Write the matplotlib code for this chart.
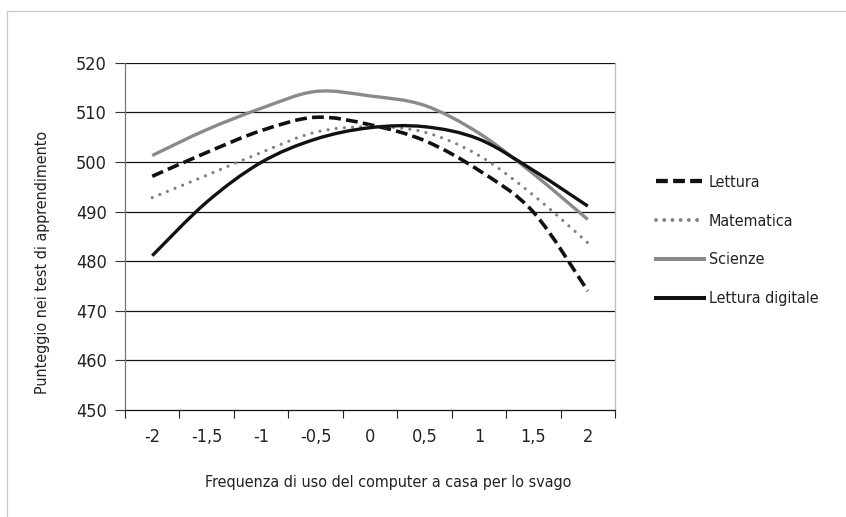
"""Punteggio nei test di apprendimento vs frequenza di uso del computer per lo svago."""

import matplotlib

matplotlib.use("Agg")
import matplotlib.pyplot as plt
from matplotlib.lines import Line2D
from matplotlib.patches import PathPatch
from matplotlib.path import Path

plt.rcParams["font.family"] = ["Liberation Sans Narrow", "DejaVu Sans"]
plt.rcParams["font.stretch"] = "condensed"
plt.rcParams["lines.scale_dashes"] = False

# categorie dell'asse x e valori
frequenza = [-2, -1.5, -1, -0.5, 0, 0.5, 1, 1.5, 2]
etichette_x = ["-2", "-1,5", "-1", "-0,5", "0", "0,5", "1", "1,5", "2"]

lettura = [497.1, 501.9, 506.3, 509.0, 507.5, 504.3, 498.3, 489.9, 474.0]
matematica = [492.8, 497.3, 501.9, 506.0, 507.1, 506.0, 501.3, 493.3, 483.7]
scienze = [501.3, 506.5, 510.8, 514.2, 513.3, 511.4, 505.8, 497.6, 488.4]
lettura_digitale = [481.1, 491.9, 499.9, 504.6, 506.9, 507.1, 504.6, 498.3, 491.1]

y_ticks = [450, 460, 470, 480, 490, 500, 510, 520]

TEXT = "#222222"
FS = 13


def smooth_path(xs, ys):
    """Curva liscia tipo Excel (Bezier con tensione 1/6) attraverso i punti."""
    pts = list(zip(xs, ys))
    verts = [pts[0]]
    codes = [Path.MOVETO]
    n = len(pts)
    for i in range(n - 1):
        p0 = pts[i - 1] if i > 0 else pts[i]
        p1 = pts[i]
        p2 = pts[i + 1]
        p3 = pts[i + 2] if i + 2 < n else pts[i + 1]
        c1 = (p1[0] + (p2[0] - p0[0]) / 6, p1[1] + (p2[1] - p0[1]) / 6)
        c2 = (p2[0] - (p3[0] - p1[0]) / 6, p2[1] - (p3[1] - p1[1]) / 6)
        verts += [c1, c2, p2]
        codes += [Path.CURVE4] * 3
    return Path(verts, codes)


fig = plt.figure(figsize=(8.46, 5.17), dpi=100)
ax = fig.add_axes([125 / 846, 1 - 410 / 517, 490 / 846, 347.3 / 517])

series = [
    ("Lettura", lettura, dict(color="#111111", lw=2.6, ls=(0, (8.5, 3.8)), cap="butt")),
    ("Matematica", matematica, dict(color="#808080", lw=2.3, ls=(0, (0.01, 5.9)), cap="round")),
    ("Scienze", scienze, dict(color="#8a8a8a", lw=2.4, ls="-", cap="butt")),
    ("Lettura digitale", lettura_digitale, dict(color="#111111", lw=2.4, ls="-", cap="butt")),
]

handles = []
for name, vals, st in series:
    patch = PathPatch(
        smooth_path(frequenza, vals),
        fill=False,
        edgecolor=st["color"],
        linewidth=st["lw"],
        linestyle=st["ls"],
        capstyle=st["cap"],
        zorder=3,
    )
    ax.add_patch(patch)
    h = Line2D([], [], color=st["color"], lw=st["lw"] + 0.5, ls=st["ls"])
    h.set_dash_capstyle(st["cap"])
    handles.append(h)

ax.set_xlim(-2.25, 2.25)
ax.set_ylim(450, 520)

ax.set_yticks(y_ticks)
ax.set_yticklabels([str(v) for v in y_ticks])
ax.tick_params(axis="y", length=7, width=0.8, pad=6, labelsize=FS, colors=TEXT, color="#333333")

ax.set_xticks(frequenza)
ax.set_xticklabels(etichette_x)
ax.set_xticks([-2.25 + 0.5 * k for k in range(10)], minor=True)
ax.tick_params(axis="x", which="major", length=0, pad=13, labelsize=FS, colors=TEXT)
ax.tick_params(axis="x", which="minor", length=5.5, width=0.8, color="#222222")

for v in y_ticks[1:]:
    ax.axhline(v, color="#111111", lw=0.9, zorder=1)

ax.spines["top"].set_visible(False)
ax.spines["right"].set_color("#bbbbbb")
ax.spines["right"].set_linewidth(0.9)
ax.spines["left"].set_color("#777777")
ax.spines["left"].set_linewidth(0.9)
ax.spines["bottom"].set_color("#111111")
ax.spines["bottom"].set_linewidth(0.9)

fig.text(43 / 846, 1 - 262 / 517, "Punteggio nei test di apprendimento",
         rotation=90, ha="center", va="center", fontsize=11.5, color=TEXT)
fig.text(388 / 846, 1 - 482 / 517, "Frequenza di uso del computer a casa per lo svago",
         ha="center", va="center", fontsize=11.5, color=TEXT)

fig.legend(
    handles,
    [s[0] for s in series],
    loc="center left",
    bbox_to_anchor=(656 / 846, 1 - 240.5 / 517),
    frameon=False,
    fontsize=11.5,
    handlelength=3.0,
    handletextpad=0.3,
    labelspacing=1.5,
    borderpad=0,
    borderaxespad=0,
    labelcolor=TEXT,
)

# cornice grigio chiaro in alto e a sinistra
fig.add_artist(Line2D([7 / 846, 1], [1 - 11 / 517] * 2, color="#c8c8c8", lw=0.9))
fig.add_artist(Line2D([7 / 846] * 2, [0, 1 - 11 / 517], color="#c8c8c8", lw=0.9))

fig.savefig("out.png", dpi=100)
plt.close(fig)
